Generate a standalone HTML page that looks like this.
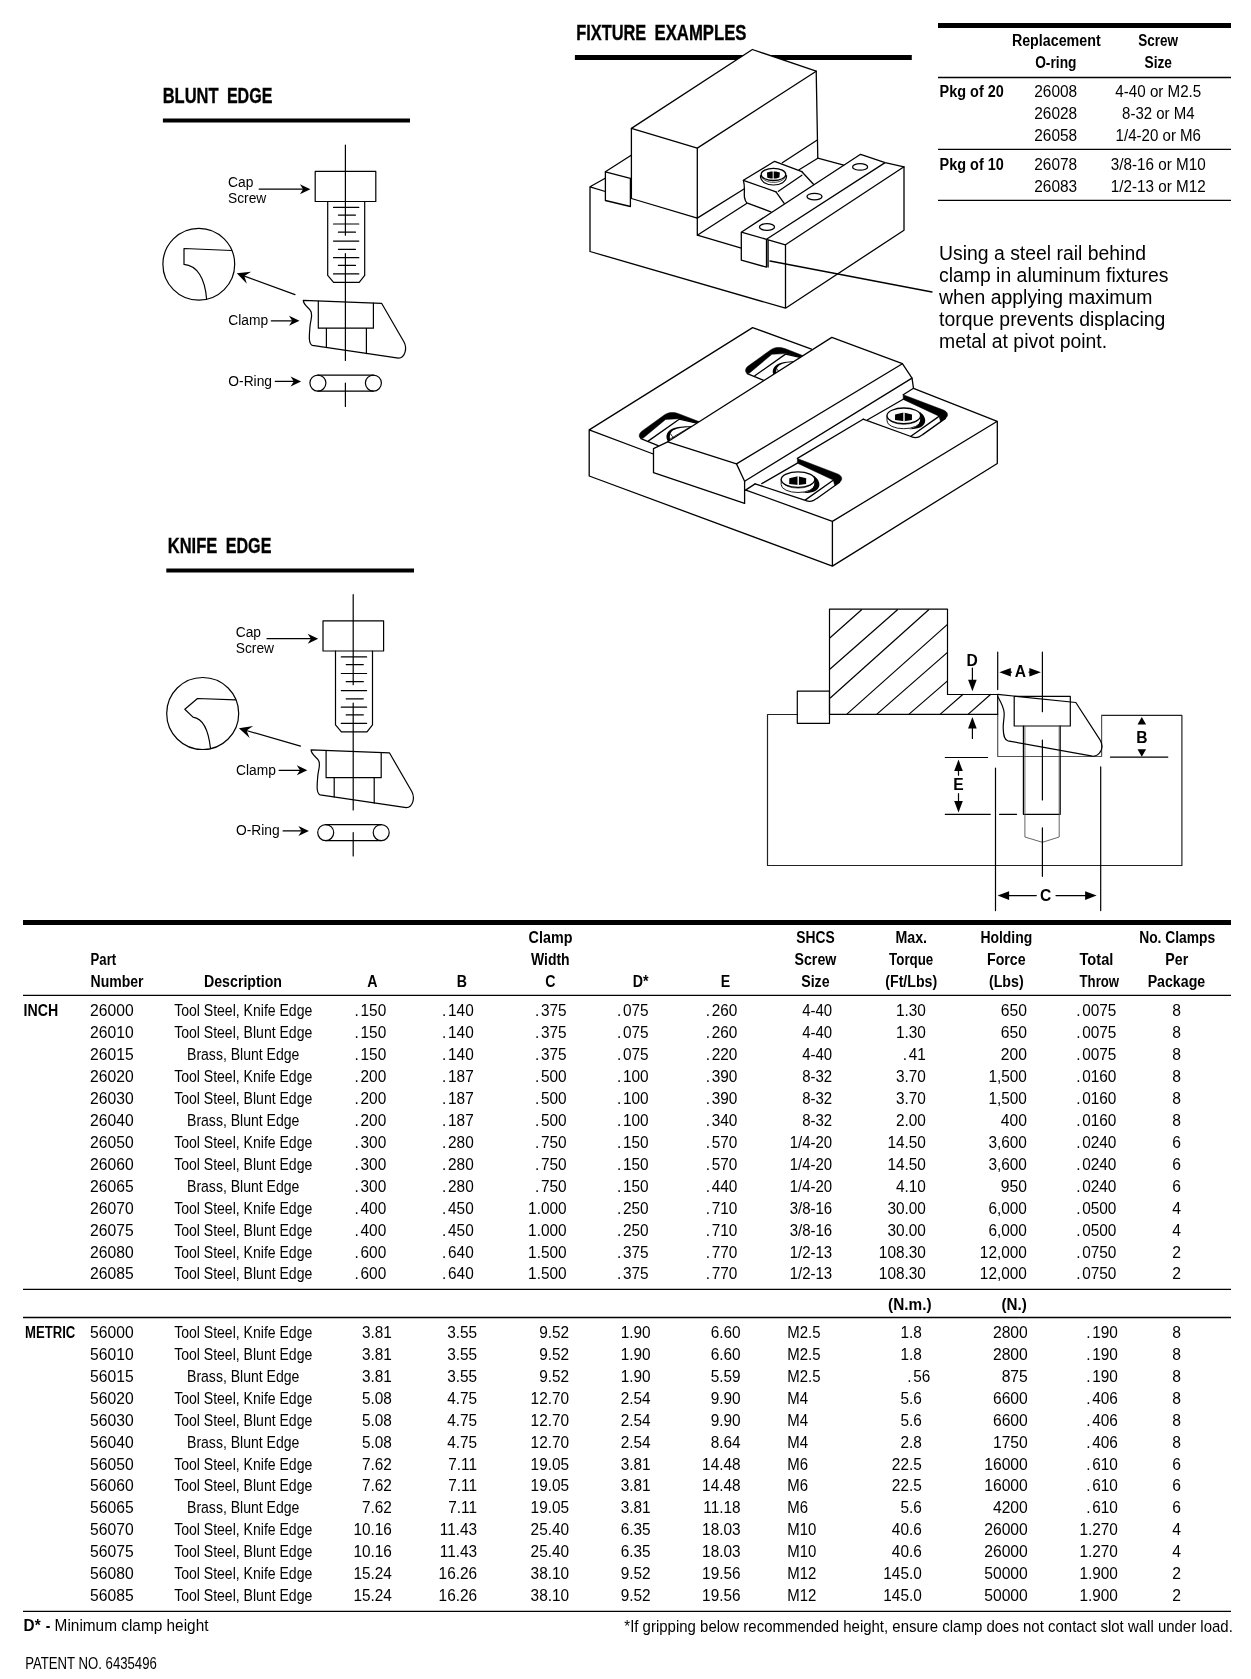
<!DOCTYPE html>
<html><head><meta charset="utf-8"><title>Clamp specifications</title>
<style>
html,body{margin:0;padding:0;background:#fff;}
body{width:1251px;height:1679px;overflow:hidden;font-family:"Liberation Sans",sans-serif;}
svg{display:block;filter:grayscale(1);font-family:"Liberation Sans",sans-serif;}
text{fill:#000;}
.d{fill:none;stroke:#000;stroke-width:1.2;stroke-linecap:round;stroke-linejoin:round;}
.f .d{stroke-width:1.3;}
</style></head><body>
<svg width="1251" height="1679" viewBox="0 0 1251 1679">
<text transform="translate(162.70,102.90) scale(0.7205,1)" text-anchor="start" font-size="22.90" font-weight="700" stroke="#000" stroke-width="0.35">BLUNT</text>
<text transform="translate(226.90,102.90) scale(0.7011,1)" text-anchor="start" font-size="22.90" font-weight="700" stroke="#000" stroke-width="0.35">EDGE</text>
<line x1="162.90" y1="120.50" x2="410.00" y2="120.50" stroke="#000" stroke-width="4.00"/>
<text transform="translate(167.80,552.90) scale(0.7205,1)" text-anchor="start" font-size="22.90" font-weight="700" stroke="#000" stroke-width="0.35">KNIFE</text>
<text transform="translate(225.70,552.90) scale(0.7042,1)" text-anchor="start" font-size="22.90" font-weight="700" stroke="#000" stroke-width="0.35">EDGE</text>
<line x1="166.30" y1="570.50" x2="414.00" y2="570.50" stroke="#000" stroke-width="4.00"/>
<text transform="translate(576.20,39.90) scale(0.7146,1)" text-anchor="start" font-size="22.90" font-weight="700" stroke="#000" stroke-width="0.35">FIXTURE</text>
<text transform="translate(654.50,39.90) scale(0.7303,1)" text-anchor="start" font-size="22.90" font-weight="700" stroke="#000" stroke-width="0.35">EXAMPLES</text>
<line x1="574.90" y1="57.50" x2="911.80" y2="57.50" stroke="#000" stroke-width="5.00"/>
<line x1="938.00" y1="25.50" x2="1231.00" y2="25.50" stroke="#000" stroke-width="5.00"/>
<line x1="938.00" y1="77.50" x2="1231.00" y2="77.50" stroke="#000" stroke-width="1.30"/>
<line x1="938.00" y1="149.40" x2="1231.00" y2="149.40" stroke="#000" stroke-width="1.30"/>
<line x1="938.00" y1="200.30" x2="1231.00" y2="200.30" stroke="#000" stroke-width="1.30"/>
<text transform="translate(1056.30,45.50) scale(0.8401,1)" text-anchor="middle" font-size="17.00" font-weight="700">Replacement</text>
<text transform="translate(1055.80,67.70) scale(0.8099,1)" text-anchor="middle" font-size="17.00" font-weight="700">O-ring</text>
<text transform="translate(1158.20,45.50) scale(0.7946,1)" text-anchor="middle" font-size="17.00" font-weight="700">Screw</text>
<text transform="translate(1158.20,67.70) scale(0.8084,1)" text-anchor="middle" font-size="17.00" font-weight="700">Size</text>
<text transform="translate(939.60,97.00) scale(0.8508,1)" text-anchor="start" font-size="17.00" font-weight="700">Pkg of 20</text>
<text transform="translate(939.60,170.20) scale(0.8508,1)" text-anchor="start" font-size="17.00" font-weight="700">Pkg of 10</text>
<text transform="translate(1055.70,97.00) scale(0.8969,1)" text-anchor="middle" font-size="17.20">26008</text>
<text transform="translate(1055.70,118.70) scale(0.8969,1)" text-anchor="middle" font-size="17.20">26028</text>
<text transform="translate(1055.70,140.50) scale(0.8969,1)" text-anchor="middle" font-size="17.20">26058</text>
<text transform="translate(1055.70,170.20) scale(0.8969,1)" text-anchor="middle" font-size="17.20">26078</text>
<text transform="translate(1055.70,191.90) scale(0.8969,1)" text-anchor="middle" font-size="17.20">26083</text>
<text transform="translate(1158.30,97.00) scale(0.8819,1)" text-anchor="middle" font-size="17.20">4-40 or M2.5</text>
<text transform="translate(1158.30,118.70) scale(0.8717,1)" text-anchor="middle" font-size="17.20">8-32 or M4</text>
<text transform="translate(1158.30,140.50) scale(0.8768,1)" text-anchor="middle" font-size="17.20">1/4-20 or M6</text>
<text transform="translate(1158.30,170.20) scale(0.8872,1)" text-anchor="middle" font-size="17.20">3/8-16 or M10</text>
<text transform="translate(1158.30,191.90) scale(0.8872,1)" text-anchor="middle" font-size="17.20">1/2-13 or M12</text>
<text transform="translate(939.00,260.00) scale(1.0000,1)" text-anchor="start" font-size="19.40">Using a steel rail behind</text>
<text transform="translate(939.00,282.00) scale(1.0000,1)" text-anchor="start" font-size="19.40">clamp in aluminum fixtures</text>
<text transform="translate(939.00,304.00) scale(1.0000,1)" text-anchor="start" font-size="19.40">when applying maximum</text>
<text transform="translate(939.00,326.00) scale(1.0000,1)" text-anchor="start" font-size="19.40">torque prevents displacing</text>
<text transform="translate(939.00,348.00) scale(1.0000,1)" text-anchor="start" font-size="19.40">metal at pivot point.</text>
<line x1="23.00" y1="922.50" x2="1231.00" y2="922.50" stroke="#000" stroke-width="5.00"/>
<line x1="23.00" y1="995.40" x2="1231.00" y2="995.40" stroke="#000" stroke-width="1.30"/>
<line x1="23.00" y1="1289.30" x2="1231.00" y2="1289.30" stroke="#000" stroke-width="1.30"/>
<line x1="23.00" y1="1317.50" x2="1231.00" y2="1317.50" stroke="#000" stroke-width="1.30"/>
<line x1="23.00" y1="1611.40" x2="1231.00" y2="1611.40" stroke="#000" stroke-width="1.30"/>
<text transform="translate(90.60,965.00) scale(0.7741,1)" text-anchor="start" font-size="17.00" font-weight="700">Part</text>
<text transform="translate(90.60,987.10) scale(0.8251,1)" text-anchor="start" font-size="17.00" font-weight="700">Number</text>
<text transform="translate(243.00,987.10) scale(0.8350,1)" text-anchor="middle" font-size="17.00" font-weight="700">Description</text>
<text transform="translate(372.30,987.10) scale(0.8350,1)" text-anchor="middle" font-size="17.00" font-weight="700">A</text>
<text transform="translate(461.90,987.10) scale(0.8350,1)" text-anchor="middle" font-size="17.00" font-weight="700">B</text>
<text transform="translate(550.50,943.20) scale(0.8430,1)" text-anchor="middle" font-size="17.00" font-weight="700">Clamp</text>
<text transform="translate(550.30,965.00) scale(0.8225,1)" text-anchor="middle" font-size="17.00" font-weight="700">Width</text>
<text transform="translate(550.50,987.10) scale(0.8350,1)" text-anchor="middle" font-size="17.00" font-weight="700">C</text>
<text transform="translate(640.60,987.10) scale(0.8350,1)" text-anchor="middle" font-size="17.00" font-weight="700">D*</text>
<text transform="translate(725.50,987.10) scale(0.8350,1)" text-anchor="middle" font-size="17.00" font-weight="700">E</text>
<text transform="translate(815.40,943.20) scale(0.8151,1)" text-anchor="middle" font-size="17.00" font-weight="700">SHCS</text>
<text transform="translate(815.40,965.00) scale(0.8350,1)" text-anchor="middle" font-size="17.00" font-weight="700">Screw</text>
<text transform="translate(815.40,987.10) scale(0.8350,1)" text-anchor="middle" font-size="17.00" font-weight="700">Size</text>
<text transform="translate(911.20,943.20) scale(0.8350,1)" text-anchor="middle" font-size="17.00" font-weight="700">Max.</text>
<text transform="translate(911.20,965.00) scale(0.7844,1)" text-anchor="middle" font-size="17.00" font-weight="700">Torque</text>
<text transform="translate(911.20,987.10) scale(0.8329,1)" text-anchor="middle" font-size="17.00" font-weight="700">(Ft/Lbs)</text>
<text transform="translate(1006.30,943.20) scale(0.8204,1)" text-anchor="middle" font-size="17.00" font-weight="700">Holding</text>
<text transform="translate(1006.30,965.00) scale(0.8350,1)" text-anchor="middle" font-size="17.00" font-weight="700">Force</text>
<text transform="translate(1006.30,987.10) scale(0.8350,1)" text-anchor="middle" font-size="17.00" font-weight="700">(Lbs)</text>
<text transform="translate(1096.40,965.00) scale(0.8616,1)" text-anchor="middle" font-size="17.00" font-weight="700">Total</text>
<text transform="translate(1099.30,987.10) scale(0.7766,1)" text-anchor="middle" font-size="17.00" font-weight="700">Throw</text>
<text transform="translate(1177.20,943.20) scale(0.8138,1)" text-anchor="middle" font-size="17.00" font-weight="700">No. Clamps</text>
<text transform="translate(1176.80,965.00) scale(0.8350,1)" text-anchor="middle" font-size="17.00" font-weight="700">Per</text>
<text transform="translate(1176.40,987.10) scale(0.8348,1)" text-anchor="middle" font-size="17.00" font-weight="700">Package</text>
<text transform="translate(909.80,1309.50) scale(0.9032,1)" text-anchor="middle" font-size="17.00" font-weight="700">(N.m.)</text>
<text transform="translate(1014.20,1309.50) scale(0.8933,1)" text-anchor="middle" font-size="17.00" font-weight="700">(N.)</text>
<text transform="translate(23.60,1016.30) scale(0.8327,1)" text-anchor="start" font-size="17.00" font-weight="700">INCH</text>
<text transform="translate(25.00,1338.00) scale(0.7719,1)" text-anchor="start" font-size="17.00" font-weight="700">METRIC</text>
<text transform="translate(90.00,1016.30) scale(0.9120,1)" text-anchor="start" font-size="17.20">26000</text>
<text transform="translate(243.20,1016.30) scale(0.8270,1)" text-anchor="middle" font-size="17.00">Tool Steel, Knife Edge</text>
<text transform="translate(386.20,1016.30) scale(0.8950,1)" text-anchor="end" font-size="17.20"><tspan letter-spacing="1.9">.</tspan>150</text>
<text transform="translate(473.70,1016.30) scale(0.8950,1)" text-anchor="end" font-size="17.20"><tspan letter-spacing="1.9">.</tspan>140</text>
<text transform="translate(566.60,1016.30) scale(0.8950,1)" text-anchor="end" font-size="17.20"><tspan letter-spacing="1.9">.</tspan>375</text>
<text transform="translate(648.60,1016.30) scale(0.8950,1)" text-anchor="end" font-size="17.20"><tspan letter-spacing="1.9">.</tspan>075</text>
<text transform="translate(737.30,1016.30) scale(0.8950,1)" text-anchor="end" font-size="17.20"><tspan letter-spacing="1.9">.</tspan>260</text>
<text transform="translate(832.20,1016.30) scale(0.8700,1)" text-anchor="end" font-size="17.20">4-40</text>
<text transform="translate(925.90,1016.30) scale(0.8950,1)" text-anchor="end" font-size="17.20">1.30</text>
<text transform="translate(1026.90,1016.30) scale(0.9120,1)" text-anchor="end" font-size="17.20">650</text>
<text transform="translate(1116.40,1016.30) scale(0.8950,1)" text-anchor="end" font-size="17.20"><tspan letter-spacing="1.9">.</tspan>0075</text>
<text transform="translate(1176.70,1016.30) scale(0.9120,1)" text-anchor="middle" font-size="17.20">8</text>
<text transform="translate(90.00,1038.23) scale(0.9120,1)" text-anchor="start" font-size="17.20">26010</text>
<text transform="translate(243.20,1038.23) scale(0.8270,1)" text-anchor="middle" font-size="17.00">Tool Steel, Blunt Edge</text>
<text transform="translate(386.20,1038.23) scale(0.8950,1)" text-anchor="end" font-size="17.20"><tspan letter-spacing="1.9">.</tspan>150</text>
<text transform="translate(473.70,1038.23) scale(0.8950,1)" text-anchor="end" font-size="17.20"><tspan letter-spacing="1.9">.</tspan>140</text>
<text transform="translate(566.60,1038.23) scale(0.8950,1)" text-anchor="end" font-size="17.20"><tspan letter-spacing="1.9">.</tspan>375</text>
<text transform="translate(648.60,1038.23) scale(0.8950,1)" text-anchor="end" font-size="17.20"><tspan letter-spacing="1.9">.</tspan>075</text>
<text transform="translate(737.30,1038.23) scale(0.8950,1)" text-anchor="end" font-size="17.20"><tspan letter-spacing="1.9">.</tspan>260</text>
<text transform="translate(832.20,1038.23) scale(0.8700,1)" text-anchor="end" font-size="17.20">4-40</text>
<text transform="translate(925.90,1038.23) scale(0.8950,1)" text-anchor="end" font-size="17.20">1.30</text>
<text transform="translate(1026.90,1038.23) scale(0.9120,1)" text-anchor="end" font-size="17.20">650</text>
<text transform="translate(1116.40,1038.23) scale(0.8950,1)" text-anchor="end" font-size="17.20"><tspan letter-spacing="1.9">.</tspan>0075</text>
<text transform="translate(1176.70,1038.23) scale(0.9120,1)" text-anchor="middle" font-size="17.20">8</text>
<text transform="translate(90.00,1060.16) scale(0.9120,1)" text-anchor="start" font-size="17.20">26015</text>
<text transform="translate(243.20,1060.16) scale(0.8270,1)" text-anchor="middle" font-size="17.00">Brass, Blunt Edge</text>
<text transform="translate(386.20,1060.16) scale(0.8950,1)" text-anchor="end" font-size="17.20"><tspan letter-spacing="1.9">.</tspan>150</text>
<text transform="translate(473.70,1060.16) scale(0.8950,1)" text-anchor="end" font-size="17.20"><tspan letter-spacing="1.9">.</tspan>140</text>
<text transform="translate(566.60,1060.16) scale(0.8950,1)" text-anchor="end" font-size="17.20"><tspan letter-spacing="1.9">.</tspan>375</text>
<text transform="translate(648.60,1060.16) scale(0.8950,1)" text-anchor="end" font-size="17.20"><tspan letter-spacing="1.9">.</tspan>075</text>
<text transform="translate(737.30,1060.16) scale(0.8950,1)" text-anchor="end" font-size="17.20"><tspan letter-spacing="1.9">.</tspan>220</text>
<text transform="translate(832.20,1060.16) scale(0.8700,1)" text-anchor="end" font-size="17.20">4-40</text>
<text transform="translate(925.90,1060.16) scale(0.8950,1)" text-anchor="end" font-size="17.20"><tspan letter-spacing="1.9">.</tspan>41</text>
<text transform="translate(1026.90,1060.16) scale(0.9120,1)" text-anchor="end" font-size="17.20">200</text>
<text transform="translate(1116.40,1060.16) scale(0.8950,1)" text-anchor="end" font-size="17.20"><tspan letter-spacing="1.9">.</tspan>0075</text>
<text transform="translate(1176.70,1060.16) scale(0.9120,1)" text-anchor="middle" font-size="17.20">8</text>
<text transform="translate(90.00,1082.09) scale(0.9120,1)" text-anchor="start" font-size="17.20">26020</text>
<text transform="translate(243.20,1082.09) scale(0.8270,1)" text-anchor="middle" font-size="17.00">Tool Steel, Knife Edge</text>
<text transform="translate(386.20,1082.09) scale(0.8950,1)" text-anchor="end" font-size="17.20"><tspan letter-spacing="1.9">.</tspan>200</text>
<text transform="translate(473.70,1082.09) scale(0.8950,1)" text-anchor="end" font-size="17.20"><tspan letter-spacing="1.9">.</tspan>187</text>
<text transform="translate(566.60,1082.09) scale(0.8950,1)" text-anchor="end" font-size="17.20"><tspan letter-spacing="1.9">.</tspan>500</text>
<text transform="translate(648.60,1082.09) scale(0.8950,1)" text-anchor="end" font-size="17.20"><tspan letter-spacing="1.9">.</tspan>100</text>
<text transform="translate(737.30,1082.09) scale(0.8950,1)" text-anchor="end" font-size="17.20"><tspan letter-spacing="1.9">.</tspan>390</text>
<text transform="translate(832.20,1082.09) scale(0.8700,1)" text-anchor="end" font-size="17.20">8-32</text>
<text transform="translate(925.90,1082.09) scale(0.8950,1)" text-anchor="end" font-size="17.20">3.70</text>
<text transform="translate(1026.90,1082.09) scale(0.8950,1)" text-anchor="end" font-size="17.20">1,500</text>
<text transform="translate(1116.40,1082.09) scale(0.8950,1)" text-anchor="end" font-size="17.20"><tspan letter-spacing="1.9">.</tspan>0160</text>
<text transform="translate(1176.70,1082.09) scale(0.9120,1)" text-anchor="middle" font-size="17.20">8</text>
<text transform="translate(90.00,1104.02) scale(0.9120,1)" text-anchor="start" font-size="17.20">26030</text>
<text transform="translate(243.20,1104.02) scale(0.8270,1)" text-anchor="middle" font-size="17.00">Tool Steel, Blunt Edge</text>
<text transform="translate(386.20,1104.02) scale(0.8950,1)" text-anchor="end" font-size="17.20"><tspan letter-spacing="1.9">.</tspan>200</text>
<text transform="translate(473.70,1104.02) scale(0.8950,1)" text-anchor="end" font-size="17.20"><tspan letter-spacing="1.9">.</tspan>187</text>
<text transform="translate(566.60,1104.02) scale(0.8950,1)" text-anchor="end" font-size="17.20"><tspan letter-spacing="1.9">.</tspan>500</text>
<text transform="translate(648.60,1104.02) scale(0.8950,1)" text-anchor="end" font-size="17.20"><tspan letter-spacing="1.9">.</tspan>100</text>
<text transform="translate(737.30,1104.02) scale(0.8950,1)" text-anchor="end" font-size="17.20"><tspan letter-spacing="1.9">.</tspan>390</text>
<text transform="translate(832.20,1104.02) scale(0.8700,1)" text-anchor="end" font-size="17.20">8-32</text>
<text transform="translate(925.90,1104.02) scale(0.8950,1)" text-anchor="end" font-size="17.20">3.70</text>
<text transform="translate(1026.90,1104.02) scale(0.8950,1)" text-anchor="end" font-size="17.20">1,500</text>
<text transform="translate(1116.40,1104.02) scale(0.8950,1)" text-anchor="end" font-size="17.20"><tspan letter-spacing="1.9">.</tspan>0160</text>
<text transform="translate(1176.70,1104.02) scale(0.9120,1)" text-anchor="middle" font-size="17.20">8</text>
<text transform="translate(90.00,1125.95) scale(0.9120,1)" text-anchor="start" font-size="17.20">26040</text>
<text transform="translate(243.20,1125.95) scale(0.8270,1)" text-anchor="middle" font-size="17.00">Brass, Blunt Edge</text>
<text transform="translate(386.20,1125.95) scale(0.8950,1)" text-anchor="end" font-size="17.20"><tspan letter-spacing="1.9">.</tspan>200</text>
<text transform="translate(473.70,1125.95) scale(0.8950,1)" text-anchor="end" font-size="17.20"><tspan letter-spacing="1.9">.</tspan>187</text>
<text transform="translate(566.60,1125.95) scale(0.8950,1)" text-anchor="end" font-size="17.20"><tspan letter-spacing="1.9">.</tspan>500</text>
<text transform="translate(648.60,1125.95) scale(0.8950,1)" text-anchor="end" font-size="17.20"><tspan letter-spacing="1.9">.</tspan>100</text>
<text transform="translate(737.30,1125.95) scale(0.8950,1)" text-anchor="end" font-size="17.20"><tspan letter-spacing="1.9">.</tspan>340</text>
<text transform="translate(832.20,1125.95) scale(0.8700,1)" text-anchor="end" font-size="17.20">8-32</text>
<text transform="translate(925.90,1125.95) scale(0.8950,1)" text-anchor="end" font-size="17.20">2.00</text>
<text transform="translate(1026.90,1125.95) scale(0.9120,1)" text-anchor="end" font-size="17.20">400</text>
<text transform="translate(1116.40,1125.95) scale(0.8950,1)" text-anchor="end" font-size="17.20"><tspan letter-spacing="1.9">.</tspan>0160</text>
<text transform="translate(1176.70,1125.95) scale(0.9120,1)" text-anchor="middle" font-size="17.20">8</text>
<text transform="translate(90.00,1147.88) scale(0.9120,1)" text-anchor="start" font-size="17.20">26050</text>
<text transform="translate(243.20,1147.88) scale(0.8270,1)" text-anchor="middle" font-size="17.00">Tool Steel, Knife Edge</text>
<text transform="translate(386.20,1147.88) scale(0.8950,1)" text-anchor="end" font-size="17.20"><tspan letter-spacing="1.9">.</tspan>300</text>
<text transform="translate(473.70,1147.88) scale(0.8950,1)" text-anchor="end" font-size="17.20"><tspan letter-spacing="1.9">.</tspan>280</text>
<text transform="translate(566.60,1147.88) scale(0.8950,1)" text-anchor="end" font-size="17.20"><tspan letter-spacing="1.9">.</tspan>750</text>
<text transform="translate(648.60,1147.88) scale(0.8950,1)" text-anchor="end" font-size="17.20"><tspan letter-spacing="1.9">.</tspan>150</text>
<text transform="translate(737.30,1147.88) scale(0.8950,1)" text-anchor="end" font-size="17.20"><tspan letter-spacing="1.9">.</tspan>570</text>
<text transform="translate(832.20,1147.88) scale(0.8700,1)" text-anchor="end" font-size="17.20">1/4-20</text>
<text transform="translate(925.90,1147.88) scale(0.8950,1)" text-anchor="end" font-size="17.20">14.50</text>
<text transform="translate(1026.90,1147.88) scale(0.8950,1)" text-anchor="end" font-size="17.20">3,600</text>
<text transform="translate(1116.40,1147.88) scale(0.8950,1)" text-anchor="end" font-size="17.20"><tspan letter-spacing="1.9">.</tspan>0240</text>
<text transform="translate(1176.70,1147.88) scale(0.9120,1)" text-anchor="middle" font-size="17.20">6</text>
<text transform="translate(90.00,1169.81) scale(0.9120,1)" text-anchor="start" font-size="17.20">26060</text>
<text transform="translate(243.20,1169.81) scale(0.8270,1)" text-anchor="middle" font-size="17.00">Tool Steel, Blunt Edge</text>
<text transform="translate(386.20,1169.81) scale(0.8950,1)" text-anchor="end" font-size="17.20"><tspan letter-spacing="1.9">.</tspan>300</text>
<text transform="translate(473.70,1169.81) scale(0.8950,1)" text-anchor="end" font-size="17.20"><tspan letter-spacing="1.9">.</tspan>280</text>
<text transform="translate(566.60,1169.81) scale(0.8950,1)" text-anchor="end" font-size="17.20"><tspan letter-spacing="1.9">.</tspan>750</text>
<text transform="translate(648.60,1169.81) scale(0.8950,1)" text-anchor="end" font-size="17.20"><tspan letter-spacing="1.9">.</tspan>150</text>
<text transform="translate(737.30,1169.81) scale(0.8950,1)" text-anchor="end" font-size="17.20"><tspan letter-spacing="1.9">.</tspan>570</text>
<text transform="translate(832.20,1169.81) scale(0.8700,1)" text-anchor="end" font-size="17.20">1/4-20</text>
<text transform="translate(925.90,1169.81) scale(0.8950,1)" text-anchor="end" font-size="17.20">14.50</text>
<text transform="translate(1026.90,1169.81) scale(0.8950,1)" text-anchor="end" font-size="17.20">3,600</text>
<text transform="translate(1116.40,1169.81) scale(0.8950,1)" text-anchor="end" font-size="17.20"><tspan letter-spacing="1.9">.</tspan>0240</text>
<text transform="translate(1176.70,1169.81) scale(0.9120,1)" text-anchor="middle" font-size="17.20">6</text>
<text transform="translate(90.00,1191.74) scale(0.9120,1)" text-anchor="start" font-size="17.20">26065</text>
<text transform="translate(243.20,1191.74) scale(0.8270,1)" text-anchor="middle" font-size="17.00">Brass, Blunt Edge</text>
<text transform="translate(386.20,1191.74) scale(0.8950,1)" text-anchor="end" font-size="17.20"><tspan letter-spacing="1.9">.</tspan>300</text>
<text transform="translate(473.70,1191.74) scale(0.8950,1)" text-anchor="end" font-size="17.20"><tspan letter-spacing="1.9">.</tspan>280</text>
<text transform="translate(566.60,1191.74) scale(0.8950,1)" text-anchor="end" font-size="17.20"><tspan letter-spacing="1.9">.</tspan>750</text>
<text transform="translate(648.60,1191.74) scale(0.8950,1)" text-anchor="end" font-size="17.20"><tspan letter-spacing="1.9">.</tspan>150</text>
<text transform="translate(737.30,1191.74) scale(0.8950,1)" text-anchor="end" font-size="17.20"><tspan letter-spacing="1.9">.</tspan>440</text>
<text transform="translate(832.20,1191.74) scale(0.8700,1)" text-anchor="end" font-size="17.20">1/4-20</text>
<text transform="translate(925.90,1191.74) scale(0.8950,1)" text-anchor="end" font-size="17.20">4.10</text>
<text transform="translate(1026.90,1191.74) scale(0.9120,1)" text-anchor="end" font-size="17.20">950</text>
<text transform="translate(1116.40,1191.74) scale(0.8950,1)" text-anchor="end" font-size="17.20"><tspan letter-spacing="1.9">.</tspan>0240</text>
<text transform="translate(1176.70,1191.74) scale(0.9120,1)" text-anchor="middle" font-size="17.20">6</text>
<text transform="translate(90.00,1213.67) scale(0.9120,1)" text-anchor="start" font-size="17.20">26070</text>
<text transform="translate(243.20,1213.67) scale(0.8270,1)" text-anchor="middle" font-size="17.00">Tool Steel, Knife Edge</text>
<text transform="translate(386.20,1213.67) scale(0.8950,1)" text-anchor="end" font-size="17.20"><tspan letter-spacing="1.9">.</tspan>400</text>
<text transform="translate(473.70,1213.67) scale(0.8950,1)" text-anchor="end" font-size="17.20"><tspan letter-spacing="1.9">.</tspan>450</text>
<text transform="translate(566.60,1213.67) scale(0.8950,1)" text-anchor="end" font-size="17.20">1.000</text>
<text transform="translate(648.60,1213.67) scale(0.8950,1)" text-anchor="end" font-size="17.20"><tspan letter-spacing="1.9">.</tspan>250</text>
<text transform="translate(737.30,1213.67) scale(0.8950,1)" text-anchor="end" font-size="17.20"><tspan letter-spacing="1.9">.</tspan>710</text>
<text transform="translate(832.20,1213.67) scale(0.8700,1)" text-anchor="end" font-size="17.20">3/8-16</text>
<text transform="translate(925.90,1213.67) scale(0.8950,1)" text-anchor="end" font-size="17.20">30.00</text>
<text transform="translate(1026.90,1213.67) scale(0.8950,1)" text-anchor="end" font-size="17.20">6,000</text>
<text transform="translate(1116.40,1213.67) scale(0.8950,1)" text-anchor="end" font-size="17.20"><tspan letter-spacing="1.9">.</tspan>0500</text>
<text transform="translate(1176.70,1213.67) scale(0.9120,1)" text-anchor="middle" font-size="17.20">4</text>
<text transform="translate(90.00,1235.60) scale(0.9120,1)" text-anchor="start" font-size="17.20">26075</text>
<text transform="translate(243.20,1235.60) scale(0.8270,1)" text-anchor="middle" font-size="17.00">Tool Steel, Blunt Edge</text>
<text transform="translate(386.20,1235.60) scale(0.8950,1)" text-anchor="end" font-size="17.20"><tspan letter-spacing="1.9">.</tspan>400</text>
<text transform="translate(473.70,1235.60) scale(0.8950,1)" text-anchor="end" font-size="17.20"><tspan letter-spacing="1.9">.</tspan>450</text>
<text transform="translate(566.60,1235.60) scale(0.8950,1)" text-anchor="end" font-size="17.20">1.000</text>
<text transform="translate(648.60,1235.60) scale(0.8950,1)" text-anchor="end" font-size="17.20"><tspan letter-spacing="1.9">.</tspan>250</text>
<text transform="translate(737.30,1235.60) scale(0.8950,1)" text-anchor="end" font-size="17.20"><tspan letter-spacing="1.9">.</tspan>710</text>
<text transform="translate(832.20,1235.60) scale(0.8700,1)" text-anchor="end" font-size="17.20">3/8-16</text>
<text transform="translate(925.90,1235.60) scale(0.8950,1)" text-anchor="end" font-size="17.20">30.00</text>
<text transform="translate(1026.90,1235.60) scale(0.8950,1)" text-anchor="end" font-size="17.20">6,000</text>
<text transform="translate(1116.40,1235.60) scale(0.8950,1)" text-anchor="end" font-size="17.20"><tspan letter-spacing="1.9">.</tspan>0500</text>
<text transform="translate(1176.70,1235.60) scale(0.9120,1)" text-anchor="middle" font-size="17.20">4</text>
<text transform="translate(90.00,1257.53) scale(0.9120,1)" text-anchor="start" font-size="17.20">26080</text>
<text transform="translate(243.20,1257.53) scale(0.8270,1)" text-anchor="middle" font-size="17.00">Tool Steel, Knife Edge</text>
<text transform="translate(386.20,1257.53) scale(0.8950,1)" text-anchor="end" font-size="17.20"><tspan letter-spacing="1.9">.</tspan>600</text>
<text transform="translate(473.70,1257.53) scale(0.8950,1)" text-anchor="end" font-size="17.20"><tspan letter-spacing="1.9">.</tspan>640</text>
<text transform="translate(566.60,1257.53) scale(0.8950,1)" text-anchor="end" font-size="17.20">1.500</text>
<text transform="translate(648.60,1257.53) scale(0.8950,1)" text-anchor="end" font-size="17.20"><tspan letter-spacing="1.9">.</tspan>375</text>
<text transform="translate(737.30,1257.53) scale(0.8950,1)" text-anchor="end" font-size="17.20"><tspan letter-spacing="1.9">.</tspan>770</text>
<text transform="translate(832.20,1257.53) scale(0.8700,1)" text-anchor="end" font-size="17.20">1/2-13</text>
<text transform="translate(925.90,1257.53) scale(0.8950,1)" text-anchor="end" font-size="17.20">108.30</text>
<text transform="translate(1026.90,1257.53) scale(0.8950,1)" text-anchor="end" font-size="17.20">12,000</text>
<text transform="translate(1116.40,1257.53) scale(0.8950,1)" text-anchor="end" font-size="17.20"><tspan letter-spacing="1.9">.</tspan>0750</text>
<text transform="translate(1176.70,1257.53) scale(0.9120,1)" text-anchor="middle" font-size="17.20">2</text>
<text transform="translate(90.00,1279.46) scale(0.9120,1)" text-anchor="start" font-size="17.20">26085</text>
<text transform="translate(243.20,1279.46) scale(0.8270,1)" text-anchor="middle" font-size="17.00">Tool Steel, Blunt Edge</text>
<text transform="translate(386.20,1279.46) scale(0.8950,1)" text-anchor="end" font-size="17.20"><tspan letter-spacing="1.9">.</tspan>600</text>
<text transform="translate(473.70,1279.46) scale(0.8950,1)" text-anchor="end" font-size="17.20"><tspan letter-spacing="1.9">.</tspan>640</text>
<text transform="translate(566.60,1279.46) scale(0.8950,1)" text-anchor="end" font-size="17.20">1.500</text>
<text transform="translate(648.60,1279.46) scale(0.8950,1)" text-anchor="end" font-size="17.20"><tspan letter-spacing="1.9">.</tspan>375</text>
<text transform="translate(737.30,1279.46) scale(0.8950,1)" text-anchor="end" font-size="17.20"><tspan letter-spacing="1.9">.</tspan>770</text>
<text transform="translate(832.20,1279.46) scale(0.8700,1)" text-anchor="end" font-size="17.20">1/2-13</text>
<text transform="translate(925.90,1279.46) scale(0.8950,1)" text-anchor="end" font-size="17.20">108.30</text>
<text transform="translate(1026.90,1279.46) scale(0.8950,1)" text-anchor="end" font-size="17.20">12,000</text>
<text transform="translate(1116.40,1279.46) scale(0.8950,1)" text-anchor="end" font-size="17.20"><tspan letter-spacing="1.9">.</tspan>0750</text>
<text transform="translate(1176.70,1279.46) scale(0.9120,1)" text-anchor="middle" font-size="17.20">2</text>
<text transform="translate(90.00,1337.80) scale(0.9120,1)" text-anchor="start" font-size="17.20">56000</text>
<text transform="translate(243.20,1337.80) scale(0.8270,1)" text-anchor="middle" font-size="17.00">Tool Steel, Knife Edge</text>
<text transform="translate(391.90,1337.80) scale(0.8950,1)" text-anchor="end" font-size="17.20">3.81</text>
<text transform="translate(477.10,1337.80) scale(0.8950,1)" text-anchor="end" font-size="17.20">3.55</text>
<text transform="translate(569.10,1337.80) scale(0.8950,1)" text-anchor="end" font-size="17.20">9.52</text>
<text transform="translate(650.60,1337.80) scale(0.8950,1)" text-anchor="end" font-size="17.20">1.90</text>
<text transform="translate(740.60,1337.80) scale(0.8950,1)" text-anchor="end" font-size="17.20">6.60</text>
<text transform="translate(787.30,1337.80) scale(0.8700,1)" text-anchor="start" font-size="17.20">M2.5</text>
<text transform="translate(921.80,1337.80) scale(0.8950,1)" text-anchor="end" font-size="17.20">1.8</text>
<text transform="translate(1027.80,1337.80) scale(0.9120,1)" text-anchor="end" font-size="17.20">2800</text>
<text transform="translate(1117.90,1337.80) scale(0.8950,1)" text-anchor="end" font-size="17.20"><tspan letter-spacing="1.9">.</tspan>190</text>
<text transform="translate(1176.70,1337.80) scale(0.9120,1)" text-anchor="middle" font-size="17.20">8</text>
<text transform="translate(90.00,1359.75) scale(0.9120,1)" text-anchor="start" font-size="17.20">56010</text>
<text transform="translate(243.20,1359.75) scale(0.8270,1)" text-anchor="middle" font-size="17.00">Tool Steel, Blunt Edge</text>
<text transform="translate(391.90,1359.75) scale(0.8950,1)" text-anchor="end" font-size="17.20">3.81</text>
<text transform="translate(477.10,1359.75) scale(0.8950,1)" text-anchor="end" font-size="17.20">3.55</text>
<text transform="translate(569.10,1359.75) scale(0.8950,1)" text-anchor="end" font-size="17.20">9.52</text>
<text transform="translate(650.60,1359.75) scale(0.8950,1)" text-anchor="end" font-size="17.20">1.90</text>
<text transform="translate(740.60,1359.75) scale(0.8950,1)" text-anchor="end" font-size="17.20">6.60</text>
<text transform="translate(787.30,1359.75) scale(0.8700,1)" text-anchor="start" font-size="17.20">M2.5</text>
<text transform="translate(921.80,1359.75) scale(0.8950,1)" text-anchor="end" font-size="17.20">1.8</text>
<text transform="translate(1027.80,1359.75) scale(0.9120,1)" text-anchor="end" font-size="17.20">2800</text>
<text transform="translate(1117.90,1359.75) scale(0.8950,1)" text-anchor="end" font-size="17.20"><tspan letter-spacing="1.9">.</tspan>190</text>
<text transform="translate(1176.70,1359.75) scale(0.9120,1)" text-anchor="middle" font-size="17.20">8</text>
<text transform="translate(90.00,1381.70) scale(0.9120,1)" text-anchor="start" font-size="17.20">56015</text>
<text transform="translate(243.20,1381.70) scale(0.8270,1)" text-anchor="middle" font-size="17.00">Brass, Blunt Edge</text>
<text transform="translate(391.90,1381.70) scale(0.8950,1)" text-anchor="end" font-size="17.20">3.81</text>
<text transform="translate(477.10,1381.70) scale(0.8950,1)" text-anchor="end" font-size="17.20">3.55</text>
<text transform="translate(569.10,1381.70) scale(0.8950,1)" text-anchor="end" font-size="17.20">9.52</text>
<text transform="translate(650.60,1381.70) scale(0.8950,1)" text-anchor="end" font-size="17.20">1.90</text>
<text transform="translate(740.60,1381.70) scale(0.8950,1)" text-anchor="end" font-size="17.20">5.59</text>
<text transform="translate(787.30,1381.70) scale(0.8700,1)" text-anchor="start" font-size="17.20">M2.5</text>
<text transform="translate(930.40,1381.70) scale(0.8950,1)" text-anchor="end" font-size="17.20"><tspan letter-spacing="1.9">.</tspan>56</text>
<text transform="translate(1027.80,1381.70) scale(0.9120,1)" text-anchor="end" font-size="17.20">875</text>
<text transform="translate(1117.90,1381.70) scale(0.8950,1)" text-anchor="end" font-size="17.20"><tspan letter-spacing="1.9">.</tspan>190</text>
<text transform="translate(1176.70,1381.70) scale(0.9120,1)" text-anchor="middle" font-size="17.20">8</text>
<text transform="translate(90.00,1403.65) scale(0.9120,1)" text-anchor="start" font-size="17.20">56020</text>
<text transform="translate(243.20,1403.65) scale(0.8270,1)" text-anchor="middle" font-size="17.00">Tool Steel, Knife Edge</text>
<text transform="translate(391.90,1403.65) scale(0.8950,1)" text-anchor="end" font-size="17.20">5.08</text>
<text transform="translate(477.10,1403.65) scale(0.8950,1)" text-anchor="end" font-size="17.20">4.75</text>
<text transform="translate(569.10,1403.65) scale(0.8950,1)" text-anchor="end" font-size="17.20">12.70</text>
<text transform="translate(650.60,1403.65) scale(0.8950,1)" text-anchor="end" font-size="17.20">2.54</text>
<text transform="translate(740.60,1403.65) scale(0.8950,1)" text-anchor="end" font-size="17.20">9.90</text>
<text transform="translate(787.30,1403.65) scale(0.8700,1)" text-anchor="start" font-size="17.20">M4</text>
<text transform="translate(921.80,1403.65) scale(0.8950,1)" text-anchor="end" font-size="17.20">5.6</text>
<text transform="translate(1027.80,1403.65) scale(0.9120,1)" text-anchor="end" font-size="17.20">6600</text>
<text transform="translate(1117.90,1403.65) scale(0.8950,1)" text-anchor="end" font-size="17.20"><tspan letter-spacing="1.9">.</tspan>406</text>
<text transform="translate(1176.70,1403.65) scale(0.9120,1)" text-anchor="middle" font-size="17.20">8</text>
<text transform="translate(90.00,1425.60) scale(0.9120,1)" text-anchor="start" font-size="17.20">56030</text>
<text transform="translate(243.20,1425.60) scale(0.8270,1)" text-anchor="middle" font-size="17.00">Tool Steel, Blunt Edge</text>
<text transform="translate(391.90,1425.60) scale(0.8950,1)" text-anchor="end" font-size="17.20">5.08</text>
<text transform="translate(477.10,1425.60) scale(0.8950,1)" text-anchor="end" font-size="17.20">4.75</text>
<text transform="translate(569.10,1425.60) scale(0.8950,1)" text-anchor="end" font-size="17.20">12.70</text>
<text transform="translate(650.60,1425.60) scale(0.8950,1)" text-anchor="end" font-size="17.20">2.54</text>
<text transform="translate(740.60,1425.60) scale(0.8950,1)" text-anchor="end" font-size="17.20">9.90</text>
<text transform="translate(787.30,1425.60) scale(0.8700,1)" text-anchor="start" font-size="17.20">M4</text>
<text transform="translate(921.80,1425.60) scale(0.8950,1)" text-anchor="end" font-size="17.20">5.6</text>
<text transform="translate(1027.80,1425.60) scale(0.9120,1)" text-anchor="end" font-size="17.20">6600</text>
<text transform="translate(1117.90,1425.60) scale(0.8950,1)" text-anchor="end" font-size="17.20"><tspan letter-spacing="1.9">.</tspan>406</text>
<text transform="translate(1176.70,1425.60) scale(0.9120,1)" text-anchor="middle" font-size="17.20">8</text>
<text transform="translate(90.00,1447.55) scale(0.9120,1)" text-anchor="start" font-size="17.20">56040</text>
<text transform="translate(243.20,1447.55) scale(0.8270,1)" text-anchor="middle" font-size="17.00">Brass, Blunt Edge</text>
<text transform="translate(391.90,1447.55) scale(0.8950,1)" text-anchor="end" font-size="17.20">5.08</text>
<text transform="translate(477.10,1447.55) scale(0.8950,1)" text-anchor="end" font-size="17.20">4.75</text>
<text transform="translate(569.10,1447.55) scale(0.8950,1)" text-anchor="end" font-size="17.20">12.70</text>
<text transform="translate(650.60,1447.55) scale(0.8950,1)" text-anchor="end" font-size="17.20">2.54</text>
<text transform="translate(740.60,1447.55) scale(0.8950,1)" text-anchor="end" font-size="17.20">8.64</text>
<text transform="translate(787.30,1447.55) scale(0.8700,1)" text-anchor="start" font-size="17.20">M4</text>
<text transform="translate(921.80,1447.55) scale(0.8950,1)" text-anchor="end" font-size="17.20">2.8</text>
<text transform="translate(1027.80,1447.55) scale(0.9120,1)" text-anchor="end" font-size="17.20">1750</text>
<text transform="translate(1117.90,1447.55) scale(0.8950,1)" text-anchor="end" font-size="17.20"><tspan letter-spacing="1.9">.</tspan>406</text>
<text transform="translate(1176.70,1447.55) scale(0.9120,1)" text-anchor="middle" font-size="17.20">8</text>
<text transform="translate(90.00,1469.50) scale(0.9120,1)" text-anchor="start" font-size="17.20">56050</text>
<text transform="translate(243.20,1469.50) scale(0.8270,1)" text-anchor="middle" font-size="17.00">Tool Steel, Knife Edge</text>
<text transform="translate(391.90,1469.50) scale(0.8950,1)" text-anchor="end" font-size="17.20">7.62</text>
<text transform="translate(477.10,1469.50) scale(0.8950,1)" text-anchor="end" font-size="17.20">7.11</text>
<text transform="translate(569.10,1469.50) scale(0.8950,1)" text-anchor="end" font-size="17.20">19.05</text>
<text transform="translate(650.60,1469.50) scale(0.8950,1)" text-anchor="end" font-size="17.20">3.81</text>
<text transform="translate(740.60,1469.50) scale(0.8950,1)" text-anchor="end" font-size="17.20">14.48</text>
<text transform="translate(787.30,1469.50) scale(0.8700,1)" text-anchor="start" font-size="17.20">M6</text>
<text transform="translate(921.80,1469.50) scale(0.8950,1)" text-anchor="end" font-size="17.20">22.5</text>
<text transform="translate(1027.80,1469.50) scale(0.9120,1)" text-anchor="end" font-size="17.20">16000</text>
<text transform="translate(1117.90,1469.50) scale(0.8950,1)" text-anchor="end" font-size="17.20"><tspan letter-spacing="1.9">.</tspan>610</text>
<text transform="translate(1176.70,1469.50) scale(0.9120,1)" text-anchor="middle" font-size="17.20">6</text>
<text transform="translate(90.00,1491.45) scale(0.9120,1)" text-anchor="start" font-size="17.20">56060</text>
<text transform="translate(243.20,1491.45) scale(0.8270,1)" text-anchor="middle" font-size="17.00">Tool Steel, Blunt Edge</text>
<text transform="translate(391.90,1491.45) scale(0.8950,1)" text-anchor="end" font-size="17.20">7.62</text>
<text transform="translate(477.10,1491.45) scale(0.8950,1)" text-anchor="end" font-size="17.20">7.11</text>
<text transform="translate(569.10,1491.45) scale(0.8950,1)" text-anchor="end" font-size="17.20">19.05</text>
<text transform="translate(650.60,1491.45) scale(0.8950,1)" text-anchor="end" font-size="17.20">3.81</text>
<text transform="translate(740.60,1491.45) scale(0.8950,1)" text-anchor="end" font-size="17.20">14.48</text>
<text transform="translate(787.30,1491.45) scale(0.8700,1)" text-anchor="start" font-size="17.20">M6</text>
<text transform="translate(921.80,1491.45) scale(0.8950,1)" text-anchor="end" font-size="17.20">22.5</text>
<text transform="translate(1027.80,1491.45) scale(0.9120,1)" text-anchor="end" font-size="17.20">16000</text>
<text transform="translate(1117.90,1491.45) scale(0.8950,1)" text-anchor="end" font-size="17.20"><tspan letter-spacing="1.9">.</tspan>610</text>
<text transform="translate(1176.70,1491.45) scale(0.9120,1)" text-anchor="middle" font-size="17.20">6</text>
<text transform="translate(90.00,1513.40) scale(0.9120,1)" text-anchor="start" font-size="17.20">56065</text>
<text transform="translate(243.20,1513.40) scale(0.8270,1)" text-anchor="middle" font-size="17.00">Brass, Blunt Edge</text>
<text transform="translate(391.90,1513.40) scale(0.8950,1)" text-anchor="end" font-size="17.20">7.62</text>
<text transform="translate(477.10,1513.40) scale(0.8950,1)" text-anchor="end" font-size="17.20">7.11</text>
<text transform="translate(569.10,1513.40) scale(0.8950,1)" text-anchor="end" font-size="17.20">19.05</text>
<text transform="translate(650.60,1513.40) scale(0.8950,1)" text-anchor="end" font-size="17.20">3.81</text>
<text transform="translate(740.60,1513.40) scale(0.8950,1)" text-anchor="end" font-size="17.20">11.18</text>
<text transform="translate(787.30,1513.40) scale(0.8700,1)" text-anchor="start" font-size="17.20">M6</text>
<text transform="translate(921.80,1513.40) scale(0.8950,1)" text-anchor="end" font-size="17.20">5.6</text>
<text transform="translate(1027.80,1513.40) scale(0.9120,1)" text-anchor="end" font-size="17.20">4200</text>
<text transform="translate(1117.90,1513.40) scale(0.8950,1)" text-anchor="end" font-size="17.20"><tspan letter-spacing="1.9">.</tspan>610</text>
<text transform="translate(1176.70,1513.40) scale(0.9120,1)" text-anchor="middle" font-size="17.20">6</text>
<text transform="translate(90.00,1535.35) scale(0.9120,1)" text-anchor="start" font-size="17.20">56070</text>
<text transform="translate(243.20,1535.35) scale(0.8270,1)" text-anchor="middle" font-size="17.00">Tool Steel, Knife Edge</text>
<text transform="translate(391.90,1535.35) scale(0.8950,1)" text-anchor="end" font-size="17.20">10.16</text>
<text transform="translate(477.10,1535.35) scale(0.8950,1)" text-anchor="end" font-size="17.20">11.43</text>
<text transform="translate(569.10,1535.35) scale(0.8950,1)" text-anchor="end" font-size="17.20">25.40</text>
<text transform="translate(650.60,1535.35) scale(0.8950,1)" text-anchor="end" font-size="17.20">6.35</text>
<text transform="translate(740.60,1535.35) scale(0.8950,1)" text-anchor="end" font-size="17.20">18.03</text>
<text transform="translate(787.30,1535.35) scale(0.8700,1)" text-anchor="start" font-size="17.20">M10</text>
<text transform="translate(921.80,1535.35) scale(0.8950,1)" text-anchor="end" font-size="17.20">40.6</text>
<text transform="translate(1027.80,1535.35) scale(0.9120,1)" text-anchor="end" font-size="17.20">26000</text>
<text transform="translate(1117.90,1535.35) scale(0.8950,1)" text-anchor="end" font-size="17.20">1.270</text>
<text transform="translate(1176.70,1535.35) scale(0.9120,1)" text-anchor="middle" font-size="17.20">4</text>
<text transform="translate(90.00,1557.30) scale(0.9120,1)" text-anchor="start" font-size="17.20">56075</text>
<text transform="translate(243.20,1557.30) scale(0.8270,1)" text-anchor="middle" font-size="17.00">Tool Steel, Blunt Edge</text>
<text transform="translate(391.90,1557.30) scale(0.8950,1)" text-anchor="end" font-size="17.20">10.16</text>
<text transform="translate(477.10,1557.30) scale(0.8950,1)" text-anchor="end" font-size="17.20">11.43</text>
<text transform="translate(569.10,1557.30) scale(0.8950,1)" text-anchor="end" font-size="17.20">25.40</text>
<text transform="translate(650.60,1557.30) scale(0.8950,1)" text-anchor="end" font-size="17.20">6.35</text>
<text transform="translate(740.60,1557.30) scale(0.8950,1)" text-anchor="end" font-size="17.20">18.03</text>
<text transform="translate(787.30,1557.30) scale(0.8700,1)" text-anchor="start" font-size="17.20">M10</text>
<text transform="translate(921.80,1557.30) scale(0.8950,1)" text-anchor="end" font-size="17.20">40.6</text>
<text transform="translate(1027.80,1557.30) scale(0.9120,1)" text-anchor="end" font-size="17.20">26000</text>
<text transform="translate(1117.90,1557.30) scale(0.8950,1)" text-anchor="end" font-size="17.20">1.270</text>
<text transform="translate(1176.70,1557.30) scale(0.9120,1)" text-anchor="middle" font-size="17.20">4</text>
<text transform="translate(90.00,1579.25) scale(0.9120,1)" text-anchor="start" font-size="17.20">56080</text>
<text transform="translate(243.20,1579.25) scale(0.8270,1)" text-anchor="middle" font-size="17.00">Tool Steel, Knife Edge</text>
<text transform="translate(391.90,1579.25) scale(0.8950,1)" text-anchor="end" font-size="17.20">15.24</text>
<text transform="translate(477.10,1579.25) scale(0.8950,1)" text-anchor="end" font-size="17.20">16.26</text>
<text transform="translate(569.10,1579.25) scale(0.8950,1)" text-anchor="end" font-size="17.20">38.10</text>
<text transform="translate(650.60,1579.25) scale(0.8950,1)" text-anchor="end" font-size="17.20">9.52</text>
<text transform="translate(740.60,1579.25) scale(0.8950,1)" text-anchor="end" font-size="17.20">19.56</text>
<text transform="translate(787.30,1579.25) scale(0.8700,1)" text-anchor="start" font-size="17.20">M12</text>
<text transform="translate(921.80,1579.25) scale(0.8950,1)" text-anchor="end" font-size="17.20">145.0</text>
<text transform="translate(1027.80,1579.25) scale(0.9120,1)" text-anchor="end" font-size="17.20">50000</text>
<text transform="translate(1117.90,1579.25) scale(0.8950,1)" text-anchor="end" font-size="17.20">1.900</text>
<text transform="translate(1176.70,1579.25) scale(0.9120,1)" text-anchor="middle" font-size="17.20">2</text>
<text transform="translate(90.00,1601.20) scale(0.9120,1)" text-anchor="start" font-size="17.20">56085</text>
<text transform="translate(243.20,1601.20) scale(0.8270,1)" text-anchor="middle" font-size="17.00">Tool Steel, Blunt Edge</text>
<text transform="translate(391.90,1601.20) scale(0.8950,1)" text-anchor="end" font-size="17.20">15.24</text>
<text transform="translate(477.10,1601.20) scale(0.8950,1)" text-anchor="end" font-size="17.20">16.26</text>
<text transform="translate(569.10,1601.20) scale(0.8950,1)" text-anchor="end" font-size="17.20">38.10</text>
<text transform="translate(650.60,1601.20) scale(0.8950,1)" text-anchor="end" font-size="17.20">9.52</text>
<text transform="translate(740.60,1601.20) scale(0.8950,1)" text-anchor="end" font-size="17.20">19.56</text>
<text transform="translate(787.30,1601.20) scale(0.8700,1)" text-anchor="start" font-size="17.20">M12</text>
<text transform="translate(921.80,1601.20) scale(0.8950,1)" text-anchor="end" font-size="17.20">145.0</text>
<text transform="translate(1027.80,1601.20) scale(0.9120,1)" text-anchor="end" font-size="17.20">50000</text>
<text transform="translate(1117.90,1601.20) scale(0.8950,1)" text-anchor="end" font-size="17.20">1.900</text>
<text transform="translate(1176.70,1601.20) scale(0.9120,1)" text-anchor="middle" font-size="17.20">2</text>
<text transform="translate(23.60,1631.20) scale(0.8998,1)" text-anchor="start" font-size="17.00" font-weight="700">D*</text>
<text transform="translate(45.70,1631.20) scale(0.8125,1)" text-anchor="start" font-size="17.00" font-weight="700">-</text>
<text transform="translate(54.60,1631.20) scale(0.9056,1)" text-anchor="start" font-size="17.00">Minimum clamp height</text>
<text transform="translate(624.30,1631.50) scale(0.8813,1)" text-anchor="start" font-size="17.00">*If gripping below recommended height, ensure clamp does not contact slot wall under load.</text>
<text transform="translate(25.20,1668.50) scale(0.7749,1)" text-anchor="start" font-size="17.00">PATENT NO. 6435496</text>
<g><path class="d" d="M345.4,145 V235.2 M345.4,253.6 V360.4 M345.4,383 V406.5"/>
<rect class="d" x="315.2" y="171.3" width="60.6" height="30.2"/>
<path class="d" d="M327.7,201.5 V275.4 L333.6,282.4 H359.2 L364.7,275.4 V201.5"/>
<path class="d" d="M333.5,207.4 H358.8 M338.4,215.1 H355.5 M333.5,224.0 H358.8 M338.4,232.2 H355.5 M333.5,241.1 H358.8 M338.4,249.3 H355.5 M333.5,257.7 H358.8 M338.4,265.4 H355.5 M333.5,273.9 H358.8 "/>
<path class="d" d="M303.3,300.4 L381.6,303.3 L404,342 C407.2,348 405.5,357.6 398.4,358.2 L312.3,345.4 C308.2,343.5 309.3,335 310,326.4 C310.5,320 312.6,317 311.2,312 C309.8,307.5 303.6,306 303.3,300.4 Z"/>
<path class="d" d="M318.3,301 V328.2 H373.4 V303 M326.4,328.2 V347.5 M366.4,328.2 V353.6"/>
<circle class="d" cx="317.9" cy="383.1" r="8"/><circle class="d" cx="373.4" cy="383.1" r="8"/>
<path class="d" d="M317.9,375.1 H373.4 M317.9,391.1 H373.4"/>
<path class="d" d="M259.20,189.20 L304.40,189.20"/><path d="M310.40,189.20 L299.90,194.20 L303.10,189.20 L299.90,184.20 Z" fill="#000" stroke="none"/>
<path class="d" d="M271.30,320.80 L293.50,320.80"/><path d="M299.50,320.80 L289.00,325.80 L292.20,320.80 L289.00,315.80 Z" fill="#000" stroke="none"/>
<path class="d" d="M275.30,381.40 L295.10,381.40"/><path d="M301.10,381.40 L290.60,386.40 L293.80,381.40 L290.60,376.40 Z" fill="#000" stroke="none"/></g>
<g transform="translate(7.8,449.5)"><path class="d" d="M345.4,145 V235.2 M345.4,253.6 V360.4 M345.4,383 V406.5"/>
<rect class="d" x="315.2" y="171.3" width="60.6" height="30.2"/>
<path class="d" d="M327.7,201.5 V275.4 L333.6,282.4 H359.2 L364.7,275.4 V201.5"/>
<path class="d" d="M333.5,207.4 H358.8 M338.4,215.1 H355.5 M333.5,224.0 H358.8 M338.4,232.2 H355.5 M333.5,241.1 H358.8 M338.4,249.3 H355.5 M333.5,257.7 H358.8 M338.4,265.4 H355.5 M333.5,273.9 H358.8 "/>
<path class="d" d="M303.3,300.4 L381.6,303.3 L404,342 C407.2,348 405.5,357.6 398.4,358.2 L312.3,345.4 C308.2,343.5 309.3,335 310,326.4 C310.5,320 312.6,317 311.2,312 C309.8,307.5 303.6,306 303.3,300.4 Z"/>
<path class="d" d="M318.3,301 V328.2 H373.4 V303 M326.4,328.2 V347.5 M366.4,328.2 V353.6"/>
<circle class="d" cx="317.9" cy="383.1" r="8"/><circle class="d" cx="373.4" cy="383.1" r="8"/>
<path class="d" d="M317.9,375.1 H373.4 M317.9,391.1 H373.4"/>
<path class="d" d="M259.20,189.20 L304.40,189.20"/><path d="M310.40,189.20 L299.90,194.20 L303.10,189.20 L299.90,184.20 Z" fill="#000" stroke="none"/>
<path class="d" d="M271.30,320.80 L293.50,320.80"/><path d="M299.50,320.80 L289.00,325.80 L292.20,320.80 L289.00,315.80 Z" fill="#000" stroke="none"/>
<path class="d" d="M275.30,381.40 L295.10,381.40"/><path d="M301.10,381.40 L290.60,386.40 L293.80,381.40 L290.60,376.40 Z" fill="#000" stroke="none"/></g>
<text transform="translate(228.00,187.10) scale(1.0000,1)" text-anchor="start" font-size="13.80">Cap</text>
<text transform="translate(228.00,203.30) scale(1.0000,1)" text-anchor="start" font-size="13.80">Screw</text>
<text transform="translate(228.30,325.30) scale(1.0000,1)" text-anchor="start" font-size="13.80">Clamp</text>
<text transform="translate(228.30,385.70) scale(1.0000,1)" text-anchor="start" font-size="13.80">O-Ring</text>
<text transform="translate(235.70,636.60) scale(1.0000,1)" text-anchor="start" font-size="13.80">Cap</text>
<text transform="translate(235.70,652.80) scale(1.0000,1)" text-anchor="start" font-size="13.80">Screw</text>
<text transform="translate(236.00,774.80) scale(1.0000,1)" text-anchor="start" font-size="13.80">Clamp</text>
<text transform="translate(236.00,835.20) scale(1.0000,1)" text-anchor="start" font-size="13.80">O-Ring</text>
<circle class="d" cx="198.8" cy="264.2" r="35.9"/>
<path class="d" d="M231.6,250.5 L184,248.5 L184,264.4 C197,265.5 205,278 206.6,299.2"/>
<path class="d" d="M295.00,294.60 L242.43,275.36"/><path d="M236.80,273.30 L251.17,271.85 L244.31,276.05 L246.84,283.68 Z" fill="#000" stroke="none"/>
<circle class="d" cx="202.7" cy="713.5" r="36"/>
<path class="d" d="M235.5,699.9 L197.5,698.5 L184.8,709.2 L193,717.1 C203,718.5 208.5,730 210.5,748.6"/>
<path class="d" d="M300.50,746.20 L244.66,729.97"/><path d="M238.90,728.30 L253.14,725.88 L246.58,730.53 L249.63,737.98 Z" fill="#000" stroke="none"/>
<g class="f"><path class="d" d="M631.4,128.4 L697.3,148.1 L816.2,71.2 L752.4,49.5 Z" style="fill:#fff"/>
<path class="d" d="M631.4,128.4 V198.5 L697.3,218.1 V148.1"/>
<path class="d" d="M816.2,71.2 L817.8,158.2"/>
<path class="d" d="M697.3,218.1 L744.4,188.8 M782.3,162.8 L816.9,140.3"/>
<path class="d" d="M605.4,171.8 L630.4,178.4 V206.5 L605.4,200.5 Z"/>
<path class="d" d="M605.4,171.8 L631.2,155.2"/>
<path class="d" d="M605.2,178.2 L590,186.8 L605.3,191.5 M590,186.8 V251.5 L785.5,308.2 L904,230.2 V166.8 L785.5,244.8 V308.2"/>
<path class="d" d="M697.3,218.1 V235.2 L741.3,248.2 M697.3,235.2 L746.6,203.5 M799.1,169.7 L817.8,158.2 L843.7,165.1"/>
<path class="d" d="M741.3,232.2 L766.5,239.3 L785.5,244.8 M741.3,232.2 V260.2 L766.5,267.2 V239.3 M768.1,239.8 V267 M741.3,232.2 L860.6,154.3 L885.1,162.6 L904,166.8 M766.5,239.3 L885.1,162.6"/>
<ellipse class="d" cx="767.0" cy="227.0" rx="7.5" ry="3.3"/>
<ellipse class="d" cx="814.5" cy="196.6" rx="7.5" ry="3.3"/>
<ellipse class="d" cx="860.1" cy="166.9" rx="7.5" ry="3.3"/>
<path class="d" d="M776,191.8 L743.4,180.3 L774.6,161.3 L801.9,171.7"/>
<path class="d" d="M801.9,171.7 L813.5,184.3 M776,191.8 L784.2,203.3 M778.4,191.3 L801.9,175.2"/>
<path class="d" d="M743.4,180.3 C745.5,188 743.6,194 744.6,198 C745.2,200.6 745.6,201.8 746.8,202.8 L770.8,211.8"/>
<ellipse class="d" cx="773.5" cy="174.4" rx="12.3" ry="6.1" fill="#fff"/>
<path class="d" d="M760.4,175.5 C760,188.2 787,188.2 786.6,175.5" style="stroke-width:1.15"/>
<path class="d" d="M761.6,176.5 C764,184.5 783,184.5 785.4,176.5" style="stroke-width:.7"/>
<path d="M767,172.4 L771,171.6 H776 L779.9,172.4 L779.4,177.6 L776,178.5 H771 L767.3,177.7 Z" fill="#000"/>
<path d="M773.2,171 V179" stroke="#fff" stroke-width="1" fill="none"/>
<path class="d" d="M770,261 L932,292"/></g>
<g class="f"><path class="d" d="M589.2,429.9 L752.6,327.6 L811.5,349.2 M589.2,429.9 L653.3,454 M589.2,429.9 V476 L832.4,566.1 L997.3,463.5 V421.3 L832.4,521.4 V566.1 M832.4,521.4 L745.2,489.8 M913.5,388.3 L997.3,421.3"/>
<path d="M701.5,422.6 L678.6,413.7 C675.0,412.3 669.2,411.6 664.6,414.8 L642.2,430.9 C638.9,433.3 638.2,436.9 640.9,438.6 L643.0,438.3 L665.6,419.4 L679.2,418.7 L697.0,423.0 L701.5,424.0 Z" fill="#000" stroke="#000" stroke-width=".5" stroke-linejoin="round"/>
<path class="d" d="M640.9,438.7 L658.1,445.7 M648.5,440.9 L679.2,419.2 L697.0,423.2"/>
<path d="M668.0,441.6 C665.2,437.5 666.2,432.6 670.8,429.6 C675.0,426.8 683.0,426.0 692.0,426.3 L692.0,427.2 C684.0,427.0 677.0,428.0 673.2,430.3 C669.9,432.8 669.4,436.5 670.2,440.0 Z" fill="#000"/>
<path class="d" d="M669.7,439.2 L691.0,426.4 M670.8,434.1 C671.4,435.6 672.4,436.8 673.6,437.5" style="stroke-width:.8"/>
<path d="M807.8,357.5 L784.9,348.6 C781.3,347.2 775.5,346.5 770.9,349.7 L748.5,365.8 C745.2,368.2 744.5,371.8 747.2,373.5 L749.3,373.2 L771.9,354.3 L785.5,353.6 L803.3,357.9 L807.8,358.9 Z" fill="#000" stroke="#000" stroke-width=".5" stroke-linejoin="round"/>
<path class="d" d="M747.2,373.6 L764.4,380.6 M754.8,375.8 L785.5,354.1 L803.3,358.1"/>
<path d="M774.3,376.5 C771.5,372.4 772.5,367.5 777.1,364.5 C781.3,361.7 789.3,360.9 798.3,361.2 L798.3,362.1 C790.3,361.9 783.3,362.9 779.5,365.2 C776.2,367.7 775.7,371.4 776.5,374.9 Z" fill="#000"/>
<path class="d" d="M776.0,374.1 L797.3,361.3 M777.1,369.0 C777.7,370.5 778.7,371.7 779.9,372.4" style="stroke-width:.8"/>
<path d="M667.7,441.8 L831.8,337.4 L902.4,363.7 L912,378.1 L913.5,388.3 L745.1,490.4 L744.6,481.2 L736.5,463.9 Z" fill="#fff" stroke="none"/>
<path class="d" d="M667.7,441.8 L831.8,337.4 L902.4,363.7 L912,378.1 L913.5,388.3"/>
<path class="d" d="M653.5,448.6 L667.7,441.8 L736.5,463.9 L744.6,481.2 V503.4 L653.5,472.7 Z" style="fill:#fff"/>
<path class="d" d="M902.4,363.7 L736.5,463.9 M744.6,481.2 L912,378.1"/>
<path class="d" d="M863.1,419.2 L909.6,436.0 C912.0,437.3 915.5,438.4 919.5,436.6 C921.0,435.9 922.0,435.1 923.0,434.4 L945.4,418.4"/>
<path d="M903.2,394.7 L943.5,410.1 C947.3,411.6 949.4,415.4 945.4,418.4 L940.6,421.8 L939.0,416.2 L903.2,399.4 Z" fill="#000" stroke="#000" stroke-width=".5" stroke-linejoin="round"/>
<path class="d" d="M867.6,419.8 L903.2,399.3 M939.0,416.4 L910.9,436.3"/>
<path d="M919.3,411.6 C928.8,417.8 928.3,430.3 907.8,429.1 C914.8,428.4 921.1,424.8 920.6,416.8 Z" fill="#000"/>
<path class="d" d="M887.0,415.8 V420.9 A16.8,7.8 0 0 0 920.6,420.9 V415.8" style="stroke-width:.9"/>
<ellipse class="d" cx="903.8" cy="415.8" rx="16.8" ry="7.8" style="fill:#fff;stroke-width:1.3"/>
<path class="d" d="M888.0,418.4 A16.2,7.6 0 0 0 919.6,418.4" style="stroke-width:.6"/>
<path d="M895.1,414.5 L903.7,412.4 L912.0,414.5 L911.9,420.1 L904.3,421.2 L895.0,420.1 Z" fill="#000"/>
<path d="M904.0,412.0 V421.6" stroke="#fff" stroke-width="1.4" fill="none"/>
<path class="d" d="M755.1,483.9 L803.8,499.8 C806.2,501.1 809.7,502.2 813.7,500.4 C815.2,499.7 816.2,498.9 817.2,498.2 L839.6,482.2"/>
<path d="M797.4,458.5 L837.7,473.9 C841.5,475.4 843.6,479.2 839.6,482.2 L834.8,485.6 L833.2,480.0 L797.4,463.2 Z" fill="#000" stroke="#000" stroke-width=".5" stroke-linejoin="round"/>
<path class="d" d="M761.8,483.6 L797.4,463.1 M833.2,480.2 L805.1,500.1"/>
<path d="M813.5,475.4 C823.0,481.6 822.5,494.1 802.0,492.9 C809.0,492.2 815.3,488.6 814.8,480.6 Z" fill="#000"/>
<path class="d" d="M781.2,479.6 V484.7 A16.8,7.8 0 0 0 814.8,484.7 V479.6" style="stroke-width:.9"/>
<ellipse class="d" cx="798.0" cy="479.6" rx="16.8" ry="7.8" style="fill:#fff;stroke-width:1.3"/>
<path class="d" d="M782.2,482.2 A16.2,7.6 0 0 0 813.8,482.2" style="stroke-width:.6"/>
<path d="M789.3,478.3 L797.9,476.2 L806.2,478.3 L806.1,483.9 L798.5,485.0 L789.2,483.9 Z" fill="#000"/>
<path d="M798.2,475.8 V485.4" stroke="#fff" stroke-width="1.4" fill="none"/>
<path class="d" d="M745.1,490.4 L755.1,483.9 M797.4,458.4 L863.1,419.2 M903.2,394.7 L913.5,388.3"/></g>
<g><path class="d" d="M797.3,714.5 H767.5 V865.5 H1181.9 V715.4 H1101.6" style="stroke:#222"/>
<path class="d" d="M997.7,714.3 V756.5 H1101.6 V715.4" style="stroke:#555"/>
<rect class="d" x="797.3" y="691.2" width="32.2" height="32.1"/>
<path class="d" d="M829.5,714.4 V609.2 H947.5 V694.5 H997.7 V714.4 Z"/>
<path class="d" d="M829.5,638.2 L861.6,609.7 M829.5,669.5 L897.5,609.7 M830.5,697.8 L928.7,609.7 M846.9,714.1 L947.5,624.4 M876.9,714.1 L947.5,652.4 M909.1,714.1 L947.5,680.9 M940.3,714.1 L962.8,694.5 M968.3,714.1 L990.5,694.5"/>
<rect class="d" x="1014.2" y="696.4" width="56.1" height="29.6"/>
<path class="d" d="M1023.4,726 V814.3 H1060.2 V726"/>
<path class="d" d="M1024.9,726 V837 L1042.4,842.3 L1059.2,837 V726" style="stroke:#555;stroke-width:.9"/>
<path class="d" d="M997.7,694.4 L1075.8,702.5 L1099.7,739.3 C1102.8,744.5 1102.5,749.5 1099.5,753 C1097.5,755.5 1095,756.4 1092.4,756.2 L1007.8,740.8 C1004,739.6 1003.4,735 1003.2,728.3 C1003,722 1004.6,717.5 1004.1,712.5 C1003.6,706.5 1001,702.5 997.7,696.5"/>
<path class="d" d="M1042.4,652 V711.7 M1042.4,740.2 V800 M1042.4,827.9 V876.3"/>
<path class="d" d="M997.7,652 V689.6"/>
<path d="M999.30,672.20 L1010.80,667.90 L1010.80,672.20 L1010.80,676.50 Z" fill="#000" stroke="none"/>
<path d="M1040.90,672.20 L1029.40,676.50 L1029.40,672.20 L1029.40,667.90 Z" fill="#000" stroke="none"/>
<path class="d" d="M1008,672.2 H1011.5 M1029,672.2 H1032.5"/>
<path class="d" d="M972.4,668.2 V682"/>
<path d="M972.40,691.20 L968.10,679.70 L972.40,679.70 L976.70,679.70 Z" fill="#000" stroke="none"/>
<path class="d" d="M972.4,726 V738.4"/>
<path d="M972.40,717.00 L976.70,728.50 L972.40,728.50 L968.10,728.50 Z" fill="#000" stroke="none"/>
<path class="d" d="M945.3,757.5 H987.6 M945.3,814.3 H990.3 M999.5,814.3 H1016.6"/>
<path class="d" d="M958.5,770 V775.2 M958.5,793.6 V802"/>
<path d="M958.50,759.60 L962.80,771.10 L958.50,771.10 L954.20,771.10 Z" fill="#000" stroke="none"/>
<path d="M958.50,812.40 L954.20,800.90 L958.50,800.90 L962.80,800.90 Z" fill="#000" stroke="none"/>
<path class="d" d="M1110.4,757.1 H1167.8"/>
<path d="M1141.80,716.90 L1146.10,724.40 L1141.80,724.40 L1137.50,724.40 Z" fill="#000" stroke="none"/>
<path d="M1141.80,756.70 L1137.50,749.20 L1141.80,749.20 L1146.10,749.20 Z" fill="#000" stroke="none"/>
<path class="d" d="M995.5,768.1 V910.6 M1100.7,766.9 V910.6"/>
<path class="d" d="M1008,895.6 H1036.3 M1056,895.6 H1086"/>
<path d="M997.60,895.60 L1009.10,891.30 L1009.10,895.60 L1009.10,899.90 Z" fill="#000" stroke="none"/>
<path d="M1096.60,895.60 L1085.10,899.90 L1085.10,895.60 L1085.10,891.30 Z" fill="#000" stroke="none"/></g>
<text transform="translate(1020.30,676.90) scale(1.0000,1)" text-anchor="middle" font-size="15.60" font-weight="700">A</text>
<text transform="translate(972.20,665.90) scale(1.0000,1)" text-anchor="middle" font-size="15.60" font-weight="700">D</text>
<text transform="translate(958.50,790.00) scale(1.0000,1)" text-anchor="middle" font-size="15.60" font-weight="700">E</text>
<text transform="translate(1141.80,743.10) scale(1.0000,1)" text-anchor="middle" font-size="15.60" font-weight="700">B</text>
<text transform="translate(1045.50,901.20) scale(1.0000,1)" text-anchor="middle" font-size="15.60" font-weight="700">C</text>
</svg>
</body></html>
